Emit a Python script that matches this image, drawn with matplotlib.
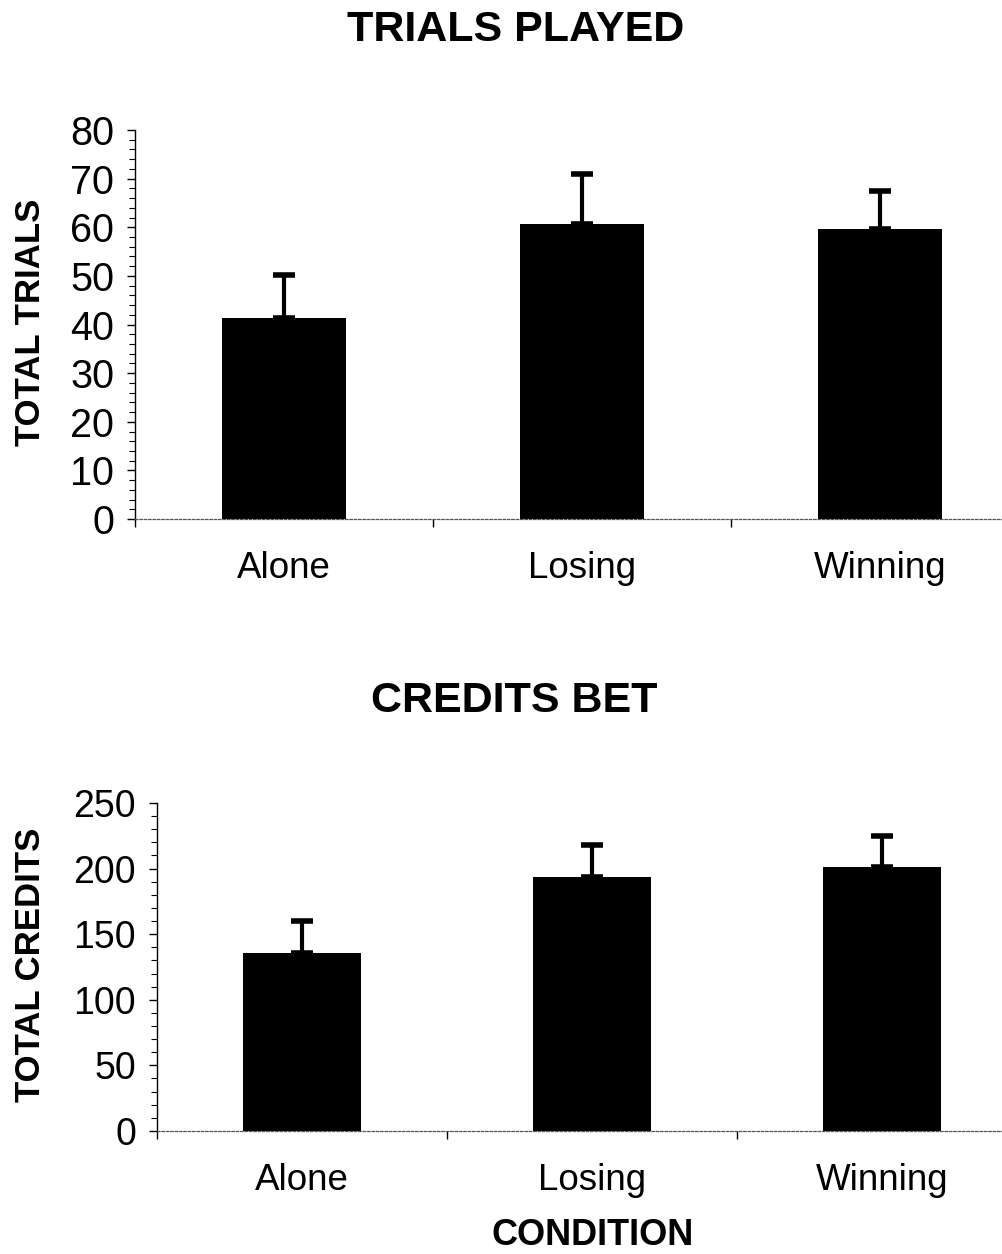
import matplotlib
matplotlib.use('Agg')

import matplotlib.pyplot as plt
from matplotlib.ticker import MultipleLocator, FixedLocator

plt.rcParams['font.family'] = ['Liberation Sans', 'DejaVu Sans']

conditions = ['Alone', 'Losing', 'Winning']

trials_mean = [41.3, 60.7, 59.7]
trials_err = [8.9, 10.3, 7.8]

credits_mean = [135.5, 193.5, 201.0]
credits_err = [24.5, 24.5, 23.5]


def draw_panel(ax, means, errs, ymax, major, minor, width, ylabelsize):
    x = range(len(conditions))
    ax.bar(x, means, width=width, color='black', zorder=2)
    ax.errorbar(x, means, yerr=[[0] * len(errs), errs], fmt='none',
                ecolor='black', elinewidth=3, capsize=8, capthick=4, zorder=3)

    ax.set_xlim(-0.5, len(conditions) - 0.5)
    ax.set_ylim(0, ymax)

    # category names sit between the boundary ticks
    ax.xaxis.set_major_locator(FixedLocator(list(x)))
    ax.set_xticklabels(conditions, fontsize=26.5)
    ax.xaxis.set_minor_locator(FixedLocator([-0.5, 0.5, 1.5, 2.5]))
    ax.tick_params(axis='x', which='major', length=0, pad=23)
    ax.tick_params(axis='x', which='minor', length=6, width=1, direction='out')

    ax.yaxis.set_major_locator(MultipleLocator(major))
    ax.yaxis.set_minor_locator(MultipleLocator(minor))
    ax.tick_params(axis='y', which='major', labelsize=ylabelsize, length=6, width=1, pad=9)
    ax.tick_params(axis='y', which='minor', length=4, width=0.8)

    for side in ('top', 'right'):
        ax.spines[side].set_visible(False)
    ax.spines['left'].set_linewidth(1)
    ax.spines['bottom'].set_color('#555555')
    ax.spines['bottom'].set_linestyle((0, (2, 1.5)))
    ax.spines['bottom'].set_linewidth(0.9)


fig = plt.figure(figsize=(10.03, 12.54), dpi=100)

ax_top = fig.add_axes([0.1346, 0.5861, 0.8913, 0.3102])
draw_panel(ax_top, trials_mean, trials_err, 80, 10, 2, 0.415, 28.5)

ax_bot = fig.add_axes([0.1565, 0.0981, 0.8674, 0.2616])
draw_panel(ax_bot, credits_mean, credits_err, 250, 50, 10, 0.41, 27)

fig.text(0.514, 0.976, 'TRIALS PLAYED', ha='center', va='center',
         fontsize=31, fontweight='bold')
fig.text(0.513, 0.441, 'CREDITS BET', ha='center', va='center',
         fontsize=31, fontweight='bold')
fig.text(0.591, 0.0145, 'CONDITION', ha='center', va='center',
         fontsize=26, fontweight='bold')
fig.text(0.030, 0.743, 'TOTAL TRIALS', ha='center', va='center',
         rotation=90, fontsize=25, fontweight='bold')
fig.text(0.030, 0.2305, 'TOTAL CREDITS', ha='center', va='center',
         rotation=90, fontsize=25, fontweight='bold')

fig.savefig('out.png', dpi=100)
